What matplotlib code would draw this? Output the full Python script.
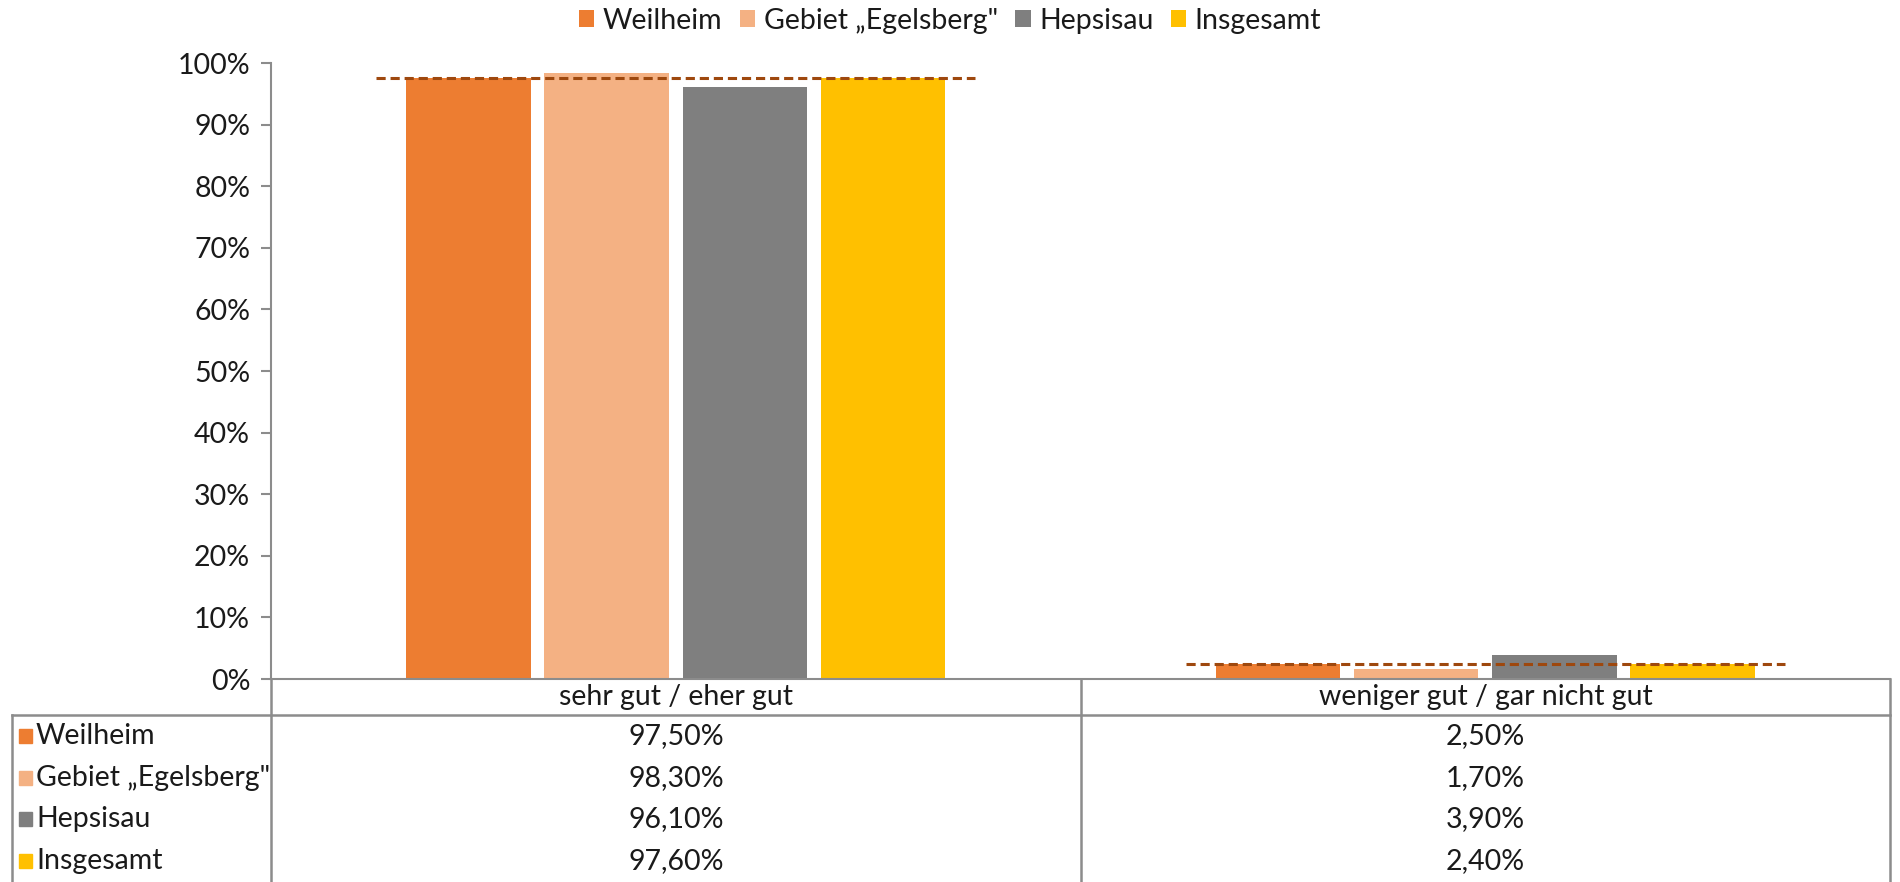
import numpy as np
import matplotlib.pyplot as plt
from matplotlib.lines import Line2D
from matplotlib.patches import Rectangle

plt.rcParams['font.family'] = ['Lato', 'DejaVu Sans']

categories = ['sehr gut / eher gut', 'weniger gut / gar nicht gut']
series = ['Weilheim', 'Gebiet \u201eEgelsberg"', 'Hepsisau', 'Insgesamt']
weilheim = [97.5, 2.5]
egelsberg = [98.3, 1.7]
hepsisau = [96.1, 3.9]
insgesamt = [97.6, 2.4]
colors = ['#ED7D31', '#F4B183', '#7F7F7F', '#FFC000']
values = [weilheim, egelsberg, hepsisau, insgesamt]

grid_col = '#8c8c8c'
txt_col = '#1a1a1a'
fs = 20.5
W, H = 1900, 882
fig = plt.figure(figsize=(19, 8.82), dpi=100)

# axes position in pixels
ax_l, ax_r, ax_t, ax_b = 271, 1890, 63, 679
ax = fig.add_axes([ax_l / W, 1 - ax_b / H, (ax_r - ax_l) / W, (ax_b - ax_t) / H])

x = np.arange(len(categories))
bw = 0.154
step = 0.1707
for i, (name, vals) in enumerate(zip(series, values)):
    ax.bar(x + (i - 1.5) * step, np.array(vals) / 100, width=bw, color=colors[i], label=name)

# dashed reference line for Insgesamt
for xi, v in zip(x, insgesamt):
    ax.plot([xi - 0.37, xi + 0.37], [v / 100, v / 100], ls=(0, (3, 1.6)), color='#9E480E', lw=2.2)

ax.set_xlim(-0.5, 1.5)
ax.set_ylim(0, 1)
ticks = np.arange(0, 1.01, 0.1)
ax.set_yticks(ticks)
ax.set_yticklabels([f'{int(round(t * 100))}%' for t in ticks], fontsize=fs, color=txt_col)
ax.set_xticks([])
for s in ['top', 'right']:
    ax.spines[s].set_visible(False)
ax.spines['left'].set_color(grid_col)
ax.spines['bottom'].set_color(grid_col)
ax.spines['left'].set_linewidth(1.5)
ax.spines['bottom'].set_linewidth(1.5)
ax.tick_params(axis='y', length=7, width=1.5, color=grid_col, pad=8)

leg = fig.legend(loc='upper center', bbox_to_anchor=(950 / W, 1 + 18 / H), ncol=4, frameon=False,
                 fontsize=fs, handlelength=0.55, handleheight=0.55, handletextpad=0.3, columnspacing=0.6)
for t in leg.get_texts():
    t.set_color(txt_col)

# data table under the axes
def px(xp, yp):
    return xp / W, 1 - yp / H

def hline(y, x0, x1):
    fig.add_artist(Line2D([x0 / W, x1 / W], [1 - y / H, 1 - y / H], color=grid_col, lw=1.8))

def vline(xp, y0, y1):
    fig.add_artist(Line2D([xp / W, xp / W], [1 - y0 / H, 1 - y1 / H], color=grid_col, lw=1.8))

tbl_top = 715
col_mid = 1081
row_h = 41.7
hline(tbl_top, 12, ax_r)
vline(12, tbl_top, H)
vline(ax_l, ax_b, H)
vline(col_mid, ax_b, H)
vline(ax_r, ax_b, H)

col_centers = [(ax_l + col_mid) / 2, (col_mid + ax_r) / 2]
for c, cx in zip(categories, col_centers):
    fig.text(*px(cx, (ax_b + tbl_top) / 2), c, ha='center', va='center', fontsize=fs, color=txt_col)

for i, (name, vals) in enumerate(zip(series, values)):
    yc = tbl_top + row_h * (i + 0.5)
    fig.add_artist(Rectangle(px(19, yc + 7), 13 / W, 14 / H, color=colors[i], transform=fig.transFigure))
    fig.text(*px(36, yc), name, ha='left', va='center', fontsize=fs, color=txt_col)
    for v, cx in zip(vals, col_centers):
        fig.text(*px(cx, yc), f'{v:.2f}%'.replace('.', ','), ha='center', va='center', fontsize=fs, color=txt_col)

fig.savefig('out.png', dpi=100)
